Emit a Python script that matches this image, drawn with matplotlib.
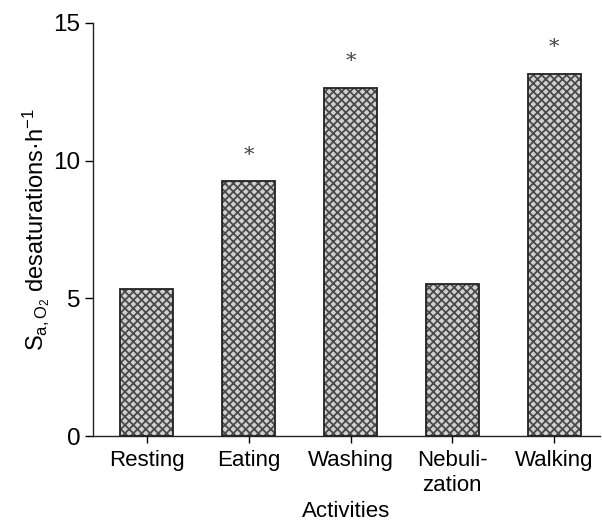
import matplotlib
matplotlib.use("Agg")
import matplotlib.pyplot as plt

plt.rcParams['font.family'] = ['Liberation Sans', 'DejaVu Sans']
plt.rcParams['mathtext.fontset'] = 'custom'
plt.rcParams['mathtext.rm'] = 'Liberation Sans'
plt.rcParams['mathtext.it'] = 'Liberation Sans:italic'
plt.rcParams['hatch.linewidth'] = 1.3

activities = ["Resting", "Eating", "Washing", "Nebuli-\nzation", "Walking"]
desaturations = [5.35, 9.25, 12.65, 5.52, 13.15]
significant = [False, True, True, False, True]

fig = plt.figure(figsize=(6.02, 5.26), dpi=100)
ax = fig.add_axes([0.1545, 0.1711, 0.842, 0.7852])

x = list(range(len(activities)))
# patterned fill first, then a black outline on top
ax.bar(x, desaturations, width=0.52, color="#d0d0d0", edgecolor="#4a4a4a",
       hatch="xxxx", linewidth=0)
ax.bar(x, desaturations, width=0.52, fill=False, edgecolor="#222222", linewidth=1.3)

for i in x:
    if significant[i]:
        ax.text(i, desaturations[i] + 0.95, "*", ha="center", va="center",
                fontsize=15, family="DejaVu Serif", color="#444444")

ax.set_xlim(-0.53, 4.45)
ax.set_ylim(0, 15)
ax.set_yticks([0, 5, 10, 15])
ax.set_xticks(x)
ax.set_xticklabels(activities, fontsize=16, linespacing=1.25, va="top")
ax.tick_params(axis="y", labelsize=17.5, length=6, width=1, pad=3)
ax.tick_params(axis="x", length=5, width=1, pad=5)

for s in ["top", "right"]:
    ax.spines[s].set_visible(False)
for s in ["left", "bottom"]:
    ax.spines[s].set_linewidth(1.0)
    ax.spines[s].set_color("#222222")

ax.set_ylabel(r"$\mathrm{S}_{\mathrm{a,O_2}}$ desaturations·h$^{\mathrm{-1}}$", fontsize=17, labelpad=1)
ax.set_xlabel("Activities", fontsize=16, labelpad=4)

fig.savefig("out.png", dpi=100)
